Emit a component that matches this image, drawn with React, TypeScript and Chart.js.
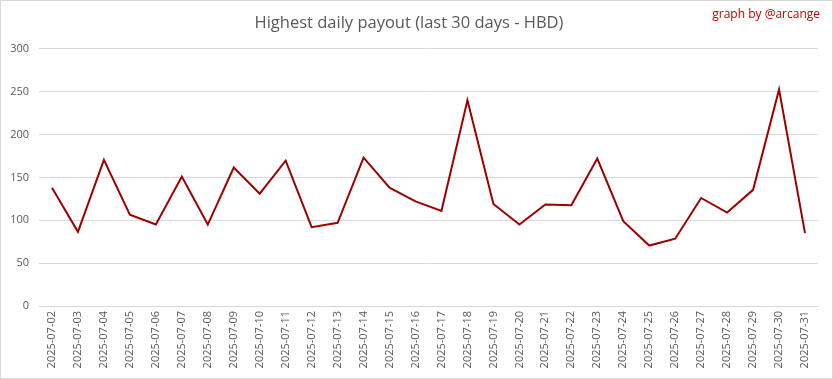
import React, { useEffect, useRef } from "react";
import { Chart, registerables } from "chart.js";

Chart.register(...registerables);

const categories = [
  "2025-07-02", "2025-07-03", "2025-07-04", "2025-07-05", "2025-07-06",
  "2025-07-07", "2025-07-08", "2025-07-09", "2025-07-10", "2025-07-11",
  "2025-07-12", "2025-07-13", "2025-07-14", "2025-07-15", "2025-07-16",
  "2025-07-17", "2025-07-18", "2025-07-19", "2025-07-20", "2025-07-21",
  "2025-07-22", "2025-07-23", "2025-07-24", "2025-07-25", "2025-07-26",
  "2025-07-27", "2025-07-28", "2025-07-29", "2025-07-30", "2025-07-31",
];

const payouts = [
  138, 86.5, 170.5, 106.5, 95, 151, 95, 161.5, 131, 169.5,
  92, 97, 173, 138, 122, 111, 240, 119, 95, 118.5,
  117.5, 172, 99, 70.5, 78.5, 126, 109, 135.5, 252.5, 85,
];

const yTicks = [0, 50, 100, 150, 200, 250, 300];

const titleText = "Highest daily payout (last 30 days - HBD)";
const creditText = "graph by @arcange";

export default function App() {
  const ref = useRef<HTMLCanvasElement | null>(null);

  useEffect(() => {
    document.body.style.margin = "0";
    const canvas = ref.current;
    if (!canvas) return;

    const frame = {
      id: "frame",
      afterDraw(chart: any) {
        const ctx = chart.ctx;
        ctx.save();
        ctx.strokeStyle = "#d9d9d9";
        ctx.lineWidth = 1;
        ctx.strokeRect(0.5, 0.5, chart.width - 1, chart.height - 1);
        ctx.fillStyle = "#c00000";
        ctx.font = "12px 'Open Sans', sans-serif";
        ctx.textAlign = "right";
        ctx.textBaseline = "middle";
        ctx.fillText(creditText, chart.width - 13, 15);
        ctx.restore();
      },
    };

    const chart = new Chart(canvas, {
      type: "line",
      data: {
        labels: categories,
        datasets: [
          {
            data: payouts,
            borderColor: "#9e0000",
            borderWidth: 2,
            pointRadius: 0,
            tension: 0,
            fill: false,
          },
        ],
      },
      options: {
        animation: false,
        responsive: false,
        layout: { padding: { left: 0, right: 15, top: 0, bottom: 0 } },
        plugins: {
          legend: { display: false },
          tooltip: { enabled: false },
          title: {
            display: true,
            text: titleText,
            color: "#595959",
            font: { family: "'Open Sans', sans-serif", size: 16.5, weight: "normal" },
            padding: { top: 13, bottom: 16 },
          },
        },
        scales: {
          x: {
            offset: true,
            grid: { display: false, drawTicks: false },
            border: { display: true, color: "#d9d9d9" },
            ticks: {
              color: "#595959",
              font: { family: "'Open Sans', sans-serif", size: 11 },
              minRotation: 90,
              maxRotation: 90,
              autoSkip: false,
              padding: 5,
            },
            afterFit(scale: any) {
              scale.height = 73;
            },
          },
          y: {
            min: 0,
            max: 300,
            afterBuildTicks(scale: any) {
              scale.ticks = yTicks.map((v) => ({ value: v }));
            },
            grid: { color: "#d9d9d9", drawTicks: false },
            border: { display: false },
            ticks: {
              color: "#595959",
              font: { family: "'Open Sans', sans-serif", size: 11 },
              padding: 10,
            },
            afterFit(scale: any) {
              scale.width = 39;
            },
          },
        },
      },
      plugins: [frame],
    } as any);

    return () => chart.destroy();
  }, []);

  return <canvas ref={ref} width={833} height={379} style={{ display: "block" }} />;
}
